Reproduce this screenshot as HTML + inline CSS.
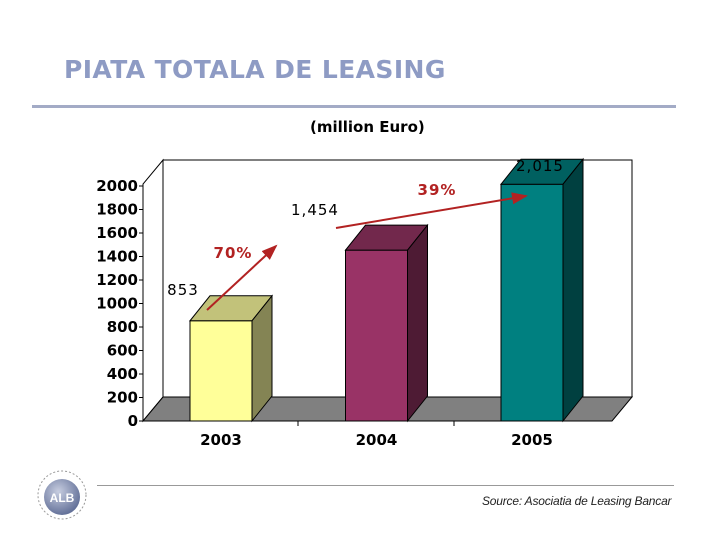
<!DOCTYPE html>
<html><head><meta charset="utf-8"><style>
body{margin:0;background:#fff;}
#root{position:relative;width:720px;height:540px;overflow:hidden;font-family:"DejaVu Sans","Liberation Sans",sans-serif;}
</style></head><body>
<div id="root">
<div style="position:absolute;left:64px;top:55px;font-size:25px;letter-spacing:0.4px;font-weight:bold;color:#8e9bc4;font-family:'DejaVu Sans',sans-serif;">PIATA TOTALA DE LEASING</div>
<div style="position:absolute;left:32px;top:105px;width:644px;height:3px;background:#a3abc6;"></div>
<div style="position:absolute;left:310px;top:118px;font-size:15px;font-weight:bold;color:#000;">(million Euro)</div>
<svg id="chart" width="720" height="540" style="position:absolute;left:0;top:0;font-family:'DejaVu Sans',sans-serif;"></svg>
<div style="position:absolute;left:97px;top:485px;width:577px;height:1px;background:#999;"></div>
<div style="position:absolute;left:482px;top:494px;font-size:12px;font-style:italic;color:#222;font-family:'Liberation Sans',sans-serif;letter-spacing:-0.2px;">Source: Asociatia de Leasing Bancar</div>
<svg width="70" height="60" style="position:absolute;left:32px;top:465px;">
<defs><radialGradient id="g" cx="0.4" cy="0.35" r="0.7"><stop offset="0" stop-color="#c7cde0"/><stop offset="1" stop-color="#5d6b94"/></radialGradient></defs>
<circle cx="30" cy="30" r="24" fill="none" stroke="#999" stroke-width="1" stroke-dasharray="2 2"/>
<circle cx="30" cy="32" r="18" fill="url(#g)"/>
<text x="30" y="37" text-anchor="middle" font-size="12" font-weight="bold" fill="#fff" font-family="Liberation Sans">ALB</text>
</svg>
</div>
<script>
const categories=["2003","2004","2005"];
const values=[853,1454,2015];
const valueLabels=["853","1,454","2,015"];
const ticks=[0,200,400,600,800,1000,1200,1400,1600,1800,2000];
const NS="http://www.w3.org/2000/svg";
const svg=document.getElementById('chart');
const y0=421, k=0.1175, axX=143, dx=20, dy=-24, floorRight=612;
const yS=v=>y0-v*k;
const cx=i=>221+i*155.5;
function el(tag,attrs,parent){const e=document.createElementNS(NS,tag);for(const a in attrs)e.setAttribute(a,attrs[a]);(parent||svg).appendChild(e);return e;}
const wallTop=yS(2000)-26;
let w=el('rect',{x:axX+dx,y:wallTop,width:floorRight-axX,height:y0+dy-wallTop,fill:'#fff',stroke:'#000'});


let sw=el('polygon',{points:`${axX},${y0} ${axX+dx},${y0+dy} ${axX+dx},${wallTop} ${axX},${wallTop-dy}`,fill:'#fff',stroke:'#000'});


let fl=el('polygon',{points:`${axX},${y0} ${floorRight},${y0} ${floorRight+dx},${y0+dy} ${axX+dx},${y0+dy}`,fill:'#808080',stroke:'#000'});


ticks.forEach(t=>{
  let l=el('line',{x1:axX-4,x2:axX,y1:yS(t),y2:yS(t),stroke:'#000'});
  
  
  let tx=el('text',{x:axX-5,y:yS(t)+5,'text-anchor':'end','font-size':15,'font-weight':'bold'});
  tx.textContent=t;
  
  
});
[298,454].forEach(x=>{let l=el('line',{x1:x,x2:x,y1:y0,y2:y0+5,stroke:'#000'});});
const colors=[["#ffff99","#c2c27a","#848454"],["#993366","#72284c","#4e1b34"],["#008080","#006060","#004040"]];
const bw=62, bdx=20, bdy=-25;
categories.forEach((c,i)=>{
  const x1=cx(i)-bw/2, x2=x1+bw, yt=yS(values[i]);
  let g=el('g',{});
  
  
  el('rect',{x:x1,y:yt,width:bw,height:y0-yt,fill:colors[i][0],stroke:'#000'},g);
  el('polygon',{points:`${x1},${yt} ${x2},${yt} ${x2+bdx},${yt+bdy} ${x1+bdx},${yt+bdy}`,fill:colors[i][1],stroke:'#000'},g);
  el('polygon',{points:`${x2},${yt} ${x2+bdx},${yt+bdy} ${x2+bdx},${y0+bdy} ${x2},${y0}`,fill:colors[i][2],stroke:'#000'},g);
  let cl=el('text',{x:cx(i),y:445,'text-anchor':'middle','font-size':15,'font-weight':'bold'});
  cl.textContent=c;
  
  
});
const lblPos=[[183,295],[315,215],[540,171]];
valueLabels.forEach((v,i)=>{
  let t=el('text',{x:lblPos[i][0],y:lblPos[i][1],'text-anchor':'middle','font-size':15,'letter-spacing':'1'});
  t.textContent=v;
  
  
});
el('defs',{}).innerHTML='<marker id="ah" markerWidth="8" markerHeight="8" refX="7" refY="4" orient="auto"><path d="M0,1 L8,4 L0,7 Z" fill="#b22222"/></marker>';
[[207,310,276,246,'growth-arrow-2004'],[336,228,526,196,'growth-arrow-2005']].forEach(a=>{
  let l=el('line',{x1:a[0],y1:a[1],x2:a[2],y2:a[3],stroke:'#b22222','stroke-width':2,'marker-end':'url(#ah)'});
  
  
});
[["70%",233,258],["39%",437,195]].forEach(p=>{
  let t=el('text',{x:p[1],y:p[2],'text-anchor':'middle','font-size':15,'font-weight':'bold',fill:'#b22222','letter-spacing':'1'});
  t.textContent=p[0];
  
  
});
</script>
</body></html>
